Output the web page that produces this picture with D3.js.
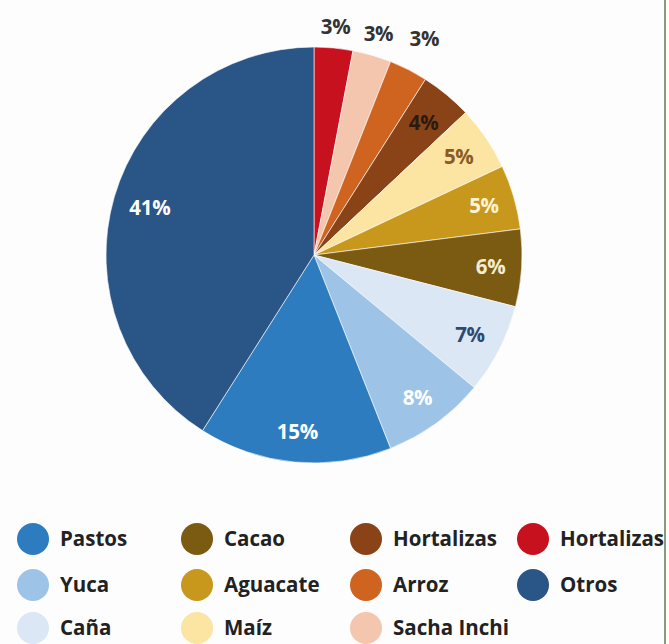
<!DOCTYPE html>
<html>
<head>
<meta charset="utf-8">
<script src="https://cdn.jsdelivr.net/npm/d3@7"></script>
<style>
  html, body { margin: 0; padding: 0; background: #fdfdfd; }
  svg { display: block; font-family: "Open Sans", sans-serif; }
</style>
</head>
<body>
<div id="chart"></div>
<script>
// slices, clockwise from 12 o'clock
const slices = ["Hortalizas (rojo)", "Sacha Inchi", "Arroz", "Hortalizas", "Maíz", "Aguacate", "Cacao", "Caña", "Yuca", "Pastos", "Otros"];
const values = [3, 3, 3, 4, 5, 5, 6, 7, 8, 15, 41];
const colors = ["#c8111f", "#f4c6ad", "#cf6420", "#8a4316", "#fce5a2", "#c8981d", "#7b5a12", "#dbe7f5", "#9dc4e7", "#2e7cc0", "#2a5587"];
const labelColors = ["#333", "#333", "#333", "#2a1a10", "#8c5a26", "#fdf3d8", "#f5ecd0", "#2c4a70", "#fff", "#fff", "#fff"];
// label distance from centre (outside labels for the small slices)
const labelRadius = [229, 231, 243, 172, 175, 177, 177, 175, 176, 177, 171];

// legend, read column by column
const legendNames = ["Pastos", "Yuca", "Caña", "Cacao", "Aguacate", "Maíz", "Hortalizas", "Arroz", "Sacha Inchi", "Hortalizas", "Otros"];
const legendColors = ["#2e7cc0", "#9dc4e7", "#dbe7f5", "#7b5a12", "#c8981d", "#fce5a2", "#8a4316", "#cf6420", "#f4c6ad", "#c8111f", "#2a5587"];

const W = 669, H = 644;
const cx = 314, cy = 255, R = 208;

const svg = d3.select("#chart").append("svg")
  .attr("width", W)
  .attr("height", H);

svg.append("rect").attr("width", W).attr("height", H).attr("fill", "#fdfdfd");

const data = slices.map((s, i) => ({ name: s, value: values[i], i }));

const pie = d3.pie().sort(null).value(d => d.value);
const arcs = pie(data);

const arc = d3.arc().innerRadius(0).outerRadius(R);

const g = svg.append("g").attr("transform", `translate(${cx},${cy})`);

g.selectAll("path")
  .data(arcs)
  .join("path")
    .attr("d", arc)
    .attr("fill", d => colors[d.data.i])
    .attr("stroke", "#fdfdfd")
    .attr("stroke-width", 0.6);

g.selectAll("text")
  .data(arcs)
  .join("text")
    .attr("transform", d => {
      const r = labelRadius[d.data.i];
      const [x, y] = d3.arc().innerRadius(r).outerRadius(r).centroid(d);
      return `translate(${x},${y})`;
    })
    .attr("text-anchor", "middle")
    .attr("dy", "0.36em")
    .attr("font-size", 20.5)
    .attr("font-weight", 700)
    .attr("letter-spacing", -0.3)
    .attr("fill", d => labelColors[d.data.i])
    .text(d => d.data.value + "%");

// legend: 4 columns x 3 rows
const colX = [33, 197, 366, 533];
const rowY = [539, 585, 628];

const items = svg.append("g").selectAll("g")
  .data(legendNames.map((n, i) => ({ n, c: legendColors[i], col: Math.floor(i / 3), row: i % 3 })))
  .join("g")
    .attr("transform", d => `translate(${colX[d.col]},${rowY[d.row]})`);

items.append("circle")
  .attr("r", 16)
  .attr("fill", d => d.c);

items.append("text")
  .attr("x", 27)
  .attr("dy", "0.36em")
  .attr("font-size", 20.5)
  .attr("font-weight", 700)
  .attr("fill", "#222")
  .text(d => d.n);

// right border line (clips last column)
svg.append("rect").attr("x", 665).attr("y", 0).attr("width", 4).attr("height", H).attr("fill", "#fdfdfd");
svg.append("line")
  .attr("x1", 665).attr("x2", 665)
  .attr("y1", 0).attr("y2", H)
  .attr("stroke", "#8a9a80")
  .attr("stroke-width", 2);
</script>
</body>
</html>
